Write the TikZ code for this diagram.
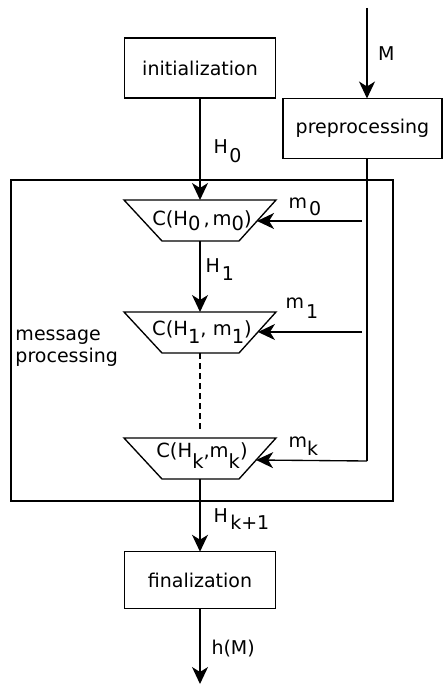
\documentclass[tikz,border=0pt]{standalone}
\usepackage{fontspec}
\setmainfont{DejaVu Sans}
\usetikzlibrary{arrows.meta}

% subscript set at full size, dropped below the baseline
\newcommand\lowered[2][6pt]{\raisebox{-#1}{#2}}

% one compression stage: name, top y, baseline offset, side-input offset, text
\newcommand\stage[5]{%
  \draw[wire, line join=miter] (124,#2) -- (276,#2) -- (239,#2+41) -- (162,#2+41) -- cycle;
  \coordinate (#1-top) at (200,#2);
  \coordinate (#1-bot) at (200,#2+41);
  \coordinate (#1-r) at (276-37*#4/41,#2+#4);
  \node[stagetext, anchor=base] (#1) at (202,#2+#3) {#5};
}

\begin{document}
\begin{tikzpicture}[x=1pt,y=-1pt,
  every node/.style={inner sep=0pt, outer sep=0pt},
  wire/.style={line width=1.35pt},
  box/.style={draw, wire, font=\fontsize{19}{23}\selectfont},
  lbl/.style={anchor=base west, font=\fontsize{19}{23}\selectfont},
  stagetext/.style={font=\fontsize{19.5}{23}\selectfont},
  flow/.style={wire, -{Stealth[length=17pt,width=16pt,inset=5pt]}},
]
\useasboundingbox (0,0) rectangle (443,685);

% processing blocks
\node[box, minimum width=151pt, minimum height=60pt] (init) at (200,68) {initialization};
\node[box, minimum width=159pt, minimum height=60pt] (pre) at (362.5,128.5) {preprocessing};
\node[box, minimum width=151.5pt, minimum height=56.5pt] (fin) at (200,580) {finalization};
\node[draw, wire, minimum width=382pt, minimum height=321pt] (frame) at (202,340.5) {};

% compression stages
\stage{c0}{200}{25}{21}{C(H\lowered[5pt]{0}\hspace{3pt},\hspace{3pt}m\lowered[5pt]{0})}
\stage{c1}{312}{23}{20}{C(H\lowered[8pt]{1}, m\lowered[8pt]{1})}
\stage{c2}{438}{19}{22}{C(H\lowered[11pt]{k},m\lowered[11pt]{k})}

% labels
\node[lbl] (lM) at (378,61) {M};
\node[lbl] (lH0) at (213.5,153) {H\hspace{1.5pt}\lowered[9pt]{0}};
\node[lbl] (lH1) at (205.5,272) {H\hspace{2pt}\lowered[8pt]{1}};
\node[lbl] (lm0) at (288.5,208) {m\hspace{2pt}\lowered[7pt]{0}};
\node[lbl] (lm1) at (285.5,308) {m\hspace{2pt}\lowered[10pt]{1}};
\node[lbl] (lmk) at (288.5,447) {m\lowered[8pt]{k}};
\node[lbl] (lHk) at (213.5,522) {H\hspace{2.5pt}\lowered[7pt]{k+1}};
\node[lbl] (lh) at (211.5,654) {h(M)};
\node[lbl] (msg1) at (15.5,340) {message};
\node[lbl] (msg2) at (15.5,362) {processing};

% chaining values
\coordinate (gapend) at (200,432);
\coordinate (hout) at (200,684);
\draw[flow] (init.south) -- (c0-top);
\draw[flow] (c0-bot) -- (c1-top);
\draw[wire, dash pattern=on 6pt off 4pt] (c1-bot) -- (gapend);
\draw[flow] (c2-bot) -- (fin.north);
\draw[flow] (fin.south) -- (hout);

% message input and blocks
\coordinate (min) at (367,8);
\coordinate (bus) at (367,461);
\coordinate (tap0) at (362,221);
\coordinate (tap1) at (362,332);
\draw[flow] (min) -- (min |- pre.north);
\draw[wire] (pre.south -| bus) -- (bus);
\draw[flow] (bus) -- (c2-r);
\draw[flow] (tap0) -- (c0-r);
\draw[flow] (tap1) -- (c1-r);
\end{tikzpicture}
\end{document}
